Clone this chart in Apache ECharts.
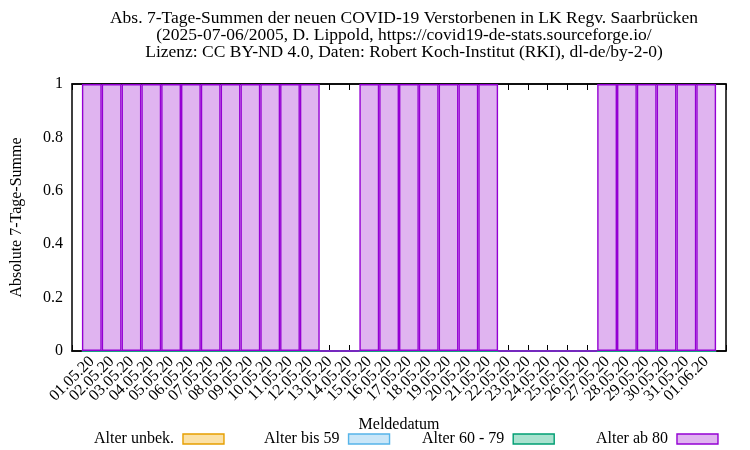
<!DOCTYPE html>
<html><head><meta charset="utf-8">
<script src="https://cdn.jsdelivr.net/npm/echarts@6/dist/echarts.min.js"></script>
<style>html,body{margin:0;padding:0;background:#fff}#c{width:750px;height:450px}</style>
</head><body><div id="c"></div>
<script>
const dates = ["01.05.20","02.05.20","03.05.20","04.05.20","05.05.20","06.05.20","07.05.20","08.05.20","09.05.20","10.05.20","11.05.20","12.05.20","13.05.20","14.05.20","15.05.20","16.05.20","17.05.20","18.05.20","19.05.20","20.05.20","21.05.20","22.05.20","23.05.20","24.05.20","25.05.20","26.05.20","27.05.20","28.05.20","29.05.20","30.05.20","31.05.20","01.06.20"];
const alterUnbek = [0,0,0,0,0,0,0,0,0,0,0,0,0,0,0,0,0,0,0,0,0,0,0,0,0,0,0,0,0,0,0,0];
const alterBis59 = [0,0,0,0,0,0,0,0,0,0,0,0,0,0,0,0,0,0,0,0,0,0,0,0,0,0,0,0,0,0,0,0];
const alter60bis79 = [0,0,0,0,0,0,0,0,0,0,0,0,0,0,0,0,0,0,0,0,0,0,0,0,0,0,0,0,0,0,0,0];
const alterAb80 = [1,1,1,1,1,1,1,1,1,1,1,1,0,0,1,1,1,1,1,1,1,0,0,0,0,0,1,1,1,1,1,1];
const seriesNames = ["Alter unbek.","Alter bis 59","Alter 60 - 79","Alter ab 80"];
const yTicks = [0,0.2,0.4,0.6,0.8,1];

const font = "'Liberation Serif','Times New Roman',serif";
const fills = ["#fbe1a6","#c9e6f8","#a9e2cf","#e0b4f0"];
const borders = ["#e69f00","#56b4e9","#009e73","#9400d3"];
const gridL = 72, gridR = 24, gridT = 84, gridB = 99;
const bw = (750 - gridL - gridR) / 33;

const chart = echarts.init(document.getElementById('c'), null, {renderer:'canvas'});
const allData = [alterUnbek, alterBis59, alter60bis79, alterAb80];
const series = allData.map((arr, k) => ({
  name: seriesNames[k], type: 'bar', stack: 's', barWidth: bw,
  itemStyle: {color: fills[k], borderColor: borders[k], borderWidth: 1.4},
  data: arr.map((v, i) => [i, v])
}));
const legendX = [94, 264, 422, 596];
const legends = seriesNames.map((n, k) => ({
  left: legendX[k], top: 431, align: 'right', orient: 'horizontal', padding: 0,
  itemWidth: 41, itemHeight: 10, itemGap: 0, icon: 'rect', selectedMode: false,
  textStyle: {fontFamily: font, fontSize: 16, color: '#000', padding: [0, 4, 0, 0]},
  data: [{name: n, itemStyle: {color: fills[k], borderColor: borders[k], borderWidth: 1.4}}]
}));
chart.setOption({
  animation: false,
  backgroundColor: '#fff',
  title: {
    text: "Abs. 7-Tage-Summen der neuen COVID-19 Verstorbenen in LK Regv. Saarbrücken\n(2025-07-06/2005, D. Lippold, https://covid19-de-stats.sourceforge.io/\nLizenz: CC BY-ND 4.0, Daten: Robert Koch-Institut (RKI), dl-de/by-2-0)",
    left: 399, top: 5, textAlign: 'center',
    textStyle: {fontFamily: font, fontSize: 17.5, fontWeight: 'normal', color: '#000', lineHeight: 17}
  },
  legend: legends,
  grid: {left: gridL, right: gridR, top: gridT, bottom: gridB, show: true, borderColor: '#000', borderWidth: 1.5, backgroundColor: 'transparent'},
  xAxis: [{
    type: 'value', min: -1, max: 32, interval: 1, position: 'bottom',
    name: 'Meldedatum', nameLocation: 'middle', nameGap: 66,
    nameTextStyle: {fontFamily: font, fontSize: 16, color: '#000'},
    axisLine: {show: true, lineStyle: {color: '#000', width: 1.5}},
    axisTick: {show: true, inside: true, length: 6, lineStyle: {color: '#000'}},
    splitLine: {show: false},
    axisLabel: {rotate: 45, margin: 8, fontFamily: font, fontSize: 16, color: '#000',
      showMinLabel: true, showMaxLabel: true,
      formatter: v => (v >= 0 && v < dates.length) ? dates[v] : ''}
  }, {
    type: 'value', min: -1, max: 32, interval: 1, position: 'top',
    axisLine: {show: true, lineStyle: {color: '#000', width: 1.5}},
    axisTick: {show: true, inside: true, length: 6, lineStyle: {color: '#000'}},
    axisLabel: {show: false}, splitLine: {show: false}
  }],
  yAxis: {
    type: 'value', min: 0, max: 1, interval: 0.2,
    name: 'Absolute 7-Tage-Summe', nameLocation: 'middle', nameGap: 47, nameRotate: 90,
    nameTextStyle: {fontFamily: font, fontSize: 16, color: '#000'},
    axisLine: {show: true, lineStyle: {color: '#000', width: 1.5}},
    axisTick: {show: true, inside: true, length: 6, lineStyle: {color: '#000'}},
    splitLine: {show: false},
    axisLabel: {margin: 9, fontFamily: font, fontSize: 16, color: '#000',
      formatter: v => { const t = yTicks.find(y => Math.abs(y - v) < 1e-9); return t === undefined ? '' : String(t); }}
  },
  series: series
});
</script></body></html>
